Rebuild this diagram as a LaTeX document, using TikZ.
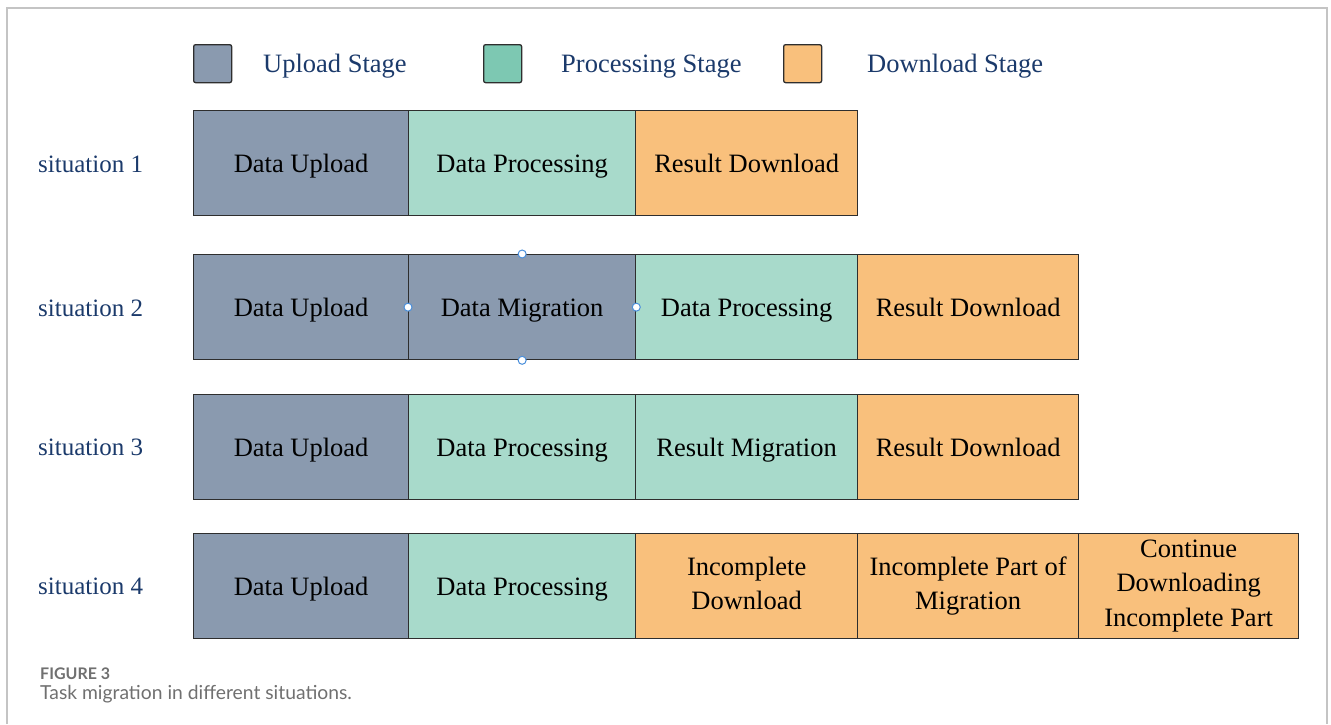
\documentclass[tikz,border=0pt]{standalone}
\usepackage{fontspec}
\setmainfont{Liberation Serif}
\newfontfamily\capfont{Lato}
\definecolor{uploadc}{HTML}{8A9AAF}
\definecolor{procc}{HTML}{A8DACB}
\definecolor{procleg}{HTML}{7DC8B2}
\definecolor{downc}{HTML}{F9C07C}
\definecolor{edgec}{HTML}{2E2E2E}
\definecolor{navy}{HTML}{1B3A6B}
\definecolor{framec}{HTML}{C4C4C4}
\definecolor{handlec}{HTML}{4A8FDB}
\definecolor{capgray}{HTML}{707070}
\newcommand{\topstrut}{\rule{0pt}{24pt}}
\newcommand{\botstrut}{\rule[-6pt]{0pt}{6pt}}
\begin{document}
\begin{tikzpicture}[x=1pt,y=-1pt,
  stage/.style={draw=edgec, line width=1.3pt, minimum height=105, inner sep=0pt,
    anchor=north west, align=center, text=black, font=\fontsize{26.5}{34.5}\selectfont,
    execute at begin node=\topstrut, execute at end node=\botstrut},
  upl/.style={stage, fill=uploadc},
  prc/.style={stage, fill=procc},
  dwn/.style={stage, fill=downc},
  legbox/.style={draw=edgec, line width=1.3pt, rounded corners=2pt, minimum size=38,
    inner sep=0pt, anchor=north west},
  legtext/.style={anchor=base west, text=navy, inner sep=0pt, font=\fontsize{26.5}{30}\selectfont},
  sitlabel/.style={anchor=base west, text=navy, inner sep=0pt, font=\fontsize{25}{30}\selectfont},
  handle/.style={circle, draw=handlec, fill=white, line width=1pt, minimum size=8, inner sep=0pt}]
\useasboundingbox (0,0) rectangle (1331,724);
\fill[white] (0,0) rectangle (1331,724);

% outer frame
\draw[framec, line width=1.2pt] (7,724) -- (7,8) -- (1327,8) -- (1327,724);

% legend
\node[legbox, fill=uploadc] (lu) at (193,44) {};
\node[legtext] (lut) at (263,72) {Upload Stage};
\node[legbox, fill=procleg] (lp) at (483,44) {};
\node[legtext] (lpt) at (561,72) {Processing Stage};
\node[legbox, fill=downc] (ld) at (783,44) {};
\node[legtext] (ldt) at (867,72) {Download Stage};

% situation 1
\node[sitlabel] (s1) at (38,172) {situation 1};
\node[upl, minimum width=215] (a1) at (193,110) {Data Upload};
\node[prc, minimum width=227] (a2) at (408,110) {Data Processing};
\node[dwn, minimum width=222] (a3) at (635,110) {Result Download};

% situation 2
\node[sitlabel] (s2) at (38,316) {situation 2};
\node[upl, minimum width=215] (b1) at (193,254) {Data Upload};
\node[upl, minimum width=227] (b2) at (408,254) {Data Migration};
\node[prc, minimum width=222] (b3) at (635,254) {Data Processing};
\node[dwn, minimum width=221] (b4) at (857,254) {Result Download};
\node[handle] (hn) at (b2.north) {};
\node[handle] (hs) at (b2.south) {};
\node[handle] (hw) at (b2.west) {};
\node[handle] (he) at (b2.east) {};

% situation 3
\node[sitlabel] (s3) at (38,455) {situation 3};
\node[upl, minimum width=215] (c1) at (193,394) {Data Upload};
\node[prc, minimum width=227] (c2) at (408,394) {Data Processing};
\node[prc, minimum width=222] (c3) at (635,394) {Result Migration};
\node[dwn, minimum width=221] (c4) at (857,394) {Result Download};

% situation 4
\node[sitlabel] (s4) at (38,594) {situation 4};
\node[upl, minimum width=215] (d1) at (193,533) {Data Upload};
\node[prc, minimum width=227] (d2) at (408,533) {Data Processing};
\node[dwn, minimum width=222] (d3) at (635,533) {Incomplete\\Download};
\node[dwn, minimum width=221] (d4) at (857,533) {Incomplete Part of\\Migration};
\node[dwn, minimum width=220] (d5) at (1078,533) {Continue\\Downloading\\Incomplete Part};

% caption
\node[anchor=base west, inner sep=0pt, text=capgray, font=\capfont\bfseries\fontsize{16}{18}\selectfont] (cap1) at (40,679) {FIGURE 3};
\node[anchor=base west, inner sep=0pt, text=capgray, font=\capfont\fontsize{19.3}{22}\selectfont] (cap2) at (40,699) {Task migration in different situations.};
\end{tikzpicture}
\end{document}
